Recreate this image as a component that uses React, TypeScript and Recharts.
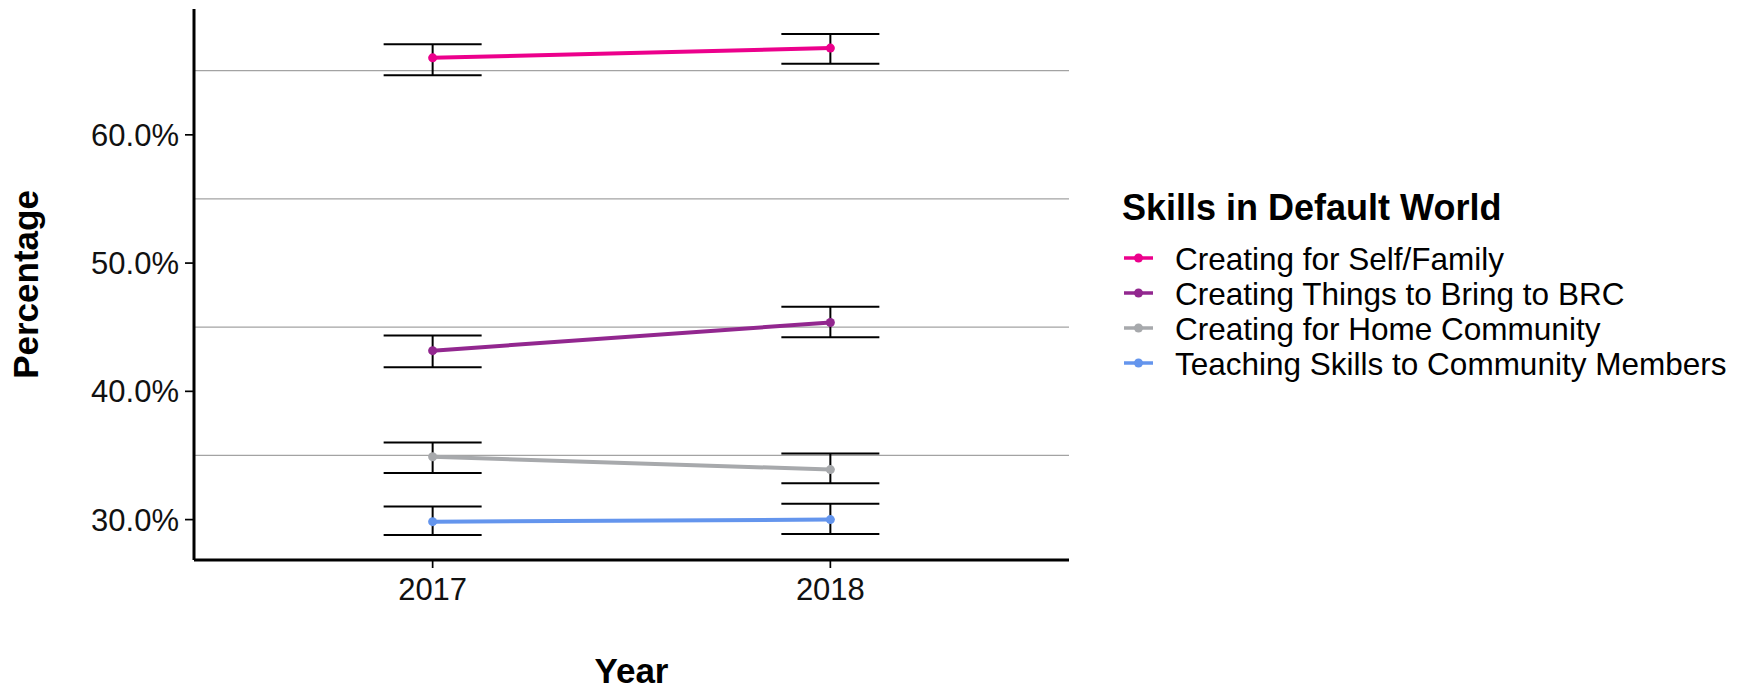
import React from 'react';
import { LineChart, Line, XAxis, YAxis, ErrorBar, ReferenceLine } from 'recharts';

const years = [2017, 2018];
const gridValues = [35, 45, 55, 65];
const yTicks = [30, 40, 50, 60];

const seriesNames = [
  'Creating for Self/Family',
  'Creating Things to Bring to BRC',
  'Creating for Home Community',
  'Teaching Skills to Community Members',
];
const seriesKeys = ['selfFamily', 'bringBrc', 'homeCommunity', 'teaching'];
const seriesColors = ['#EC008C', '#92278F', '#A7A9AC', '#6495ED'];

// percentage per year, with lower / upper bounds of the error bars
const selfFamily = [66.0, 66.76];
const selfFamilyLow = [64.64, 65.54];
const selfFamilyHigh = [67.07, 67.86];

const bringBrc = [43.17, 45.37];
const bringBrcLow = [41.87, 44.22];
const bringBrcHigh = [44.36, 46.59];

const homeCommunity = [34.9, 33.9];
const homeCommunityLow = [33.63, 32.84];
const homeCommunityHigh = [36.02, 35.16];

const teaching = [29.84, 30.0];
const teachingLow = [28.8, 28.88];
const teachingHigh = [31.02, 31.23];

const values = [selfFamily, bringBrc, homeCommunity, teaching];
const lows = [selfFamilyLow, bringBrcLow, homeCommunityLow, teachingLow];
const highs = [selfFamilyHigh, bringBrcHigh, homeCommunityHigh, teachingHigh];

const data = years.map((year, i) => {
  const row: Record<string, any> = { year };
  seriesKeys.forEach((key, s) => {
    row[key] = values[s][i];
    // ErrorBar takes [below, above] as distances from the value
    row[key + 'Err'] = [values[s][i] - lows[s][i], highs[s][i] - values[s][i]];
  });
  return row;
});

const FONT = '"Liberation Sans", Arial, sans-serif';

const App: React.FC = () => {
  return (
    <div style={{ position: 'absolute', left: 0, top: 0, width: 1743, height: 690, background: '#fff', fontFamily: FONT }}>
      <LineChart width={1743} height={690} data={data} margin={{ top: 9, right: 674, bottom: 0, left: 0 }}>
        {gridValues.map(v => (
          <ReferenceLine key={v} y={v} stroke="#a3a3a3" strokeWidth={1.2} />
        ))}
        <XAxis
          dataKey="year"
          type="number"
          domain={[2016.4, 2018.6]}
          ticks={years}
          height={130}
          tickSize={8}
          tickMargin={10}
          axisLine={{ stroke: '#000', strokeWidth: 3 }}
          tickLine={{ stroke: '#000', strokeWidth: 1.7 }}
          tick={{ fontSize: 31, fill: '#111', fontFamily: FONT }}
          label={{ value: 'Year', position: 'insideBottom', offset: 7, fontSize: 35, fontWeight: 'bold', fill: '#000', fontFamily: FONT }}
        />
        <YAxis
          type="number"
          domain={[26.85, 69.81]}
          ticks={yTicks}
          width={194}
          tickSize={9}
          tickMargin={6}
          tickFormatter={(v: number) => v.toFixed(1) + '%'}
          axisLine={{ stroke: '#000', strokeWidth: 3 }}
          tickLine={{ stroke: '#000', strokeWidth: 1.7 }}
          tick={{ fontSize: 31, fill: '#111', fontFamily: FONT }}
          label={{ value: 'Percentage', angle: -90, position: 'center', dx: -71.5, fontSize: 35, fontWeight: 'bold', fill: '#000', fontFamily: FONT }}
        />
        {seriesKeys.map((key, s) => (
          <Line
            key={key}
            dataKey={key}
            name={seriesNames[s]}
            stroke={seriesColors[s]}
            strokeWidth={4}
            dot={{ r: 4.5, fill: seriesColors[s], stroke: seriesColors[s], strokeWidth: 0 }}
            isAnimationActive={false}
          >
            <ErrorBar dataKey={key + 'Err'} width={49} stroke="#000" strokeWidth={2} direction="y" isAnimationActive={false} />
          </Line>
        ))}
      </LineChart>

      <svg width={1743} height={690} style={{ position: 'absolute', left: 0, top: 0, pointerEvents: 'none' }}>
        <text x={1122} y={220} fontSize={36} fontWeight="bold" fill="#000" fontFamily={FONT}>
          Skills in Default World
        </text>
        {seriesNames.map((name, s) => {
          const cy = 258 + s * 35;
          return (
            <g key={name}>
              <line x1={1124} x2={1153} y1={cy} y2={cy} stroke={seriesColors[s]} strokeWidth={3.5} />
              <circle cx={1138.5} cy={cy} r={4.5} fill={seriesColors[s]} />
              <text x={1175} y={cy + 12} fontSize={31.5} fill="#000" fontFamily={FONT}>
                {name}
              </text>
            </g>
          );
        })}
      </svg>
    </div>
  );
};

export default App;
